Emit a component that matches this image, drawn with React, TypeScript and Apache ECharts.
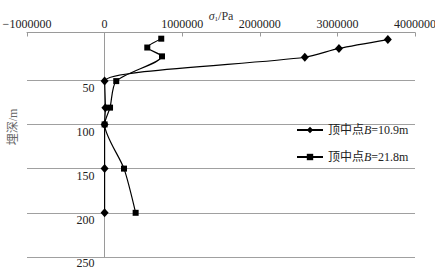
import React, { useEffect, useRef } from 'react';
import * as echarts from 'echarts';

const depthA = [4, 14, 24, 51, 81, 100, 150, 200];
const stressA = [3650000, 3020000, 2580000, 0, 10000, 0, 0, 0];
const depthB = [3, 13, 23, 51, 81, 100, 150, 200];
const stressB = [730000, 550000, 740000, 150000, 70000, 0, 250000, 400000];
const xMin = -1000000;
const xMax = 4000000;
const yMax = 250;
const yTicks = [50, 100, 150, 200, 250];
const seriesNames = ['顶中点B=10.9m', '顶中点B=21.8m'];
const xName = '{i|σ}{sub|1}/Pa';
const yName = '埋深/m';

const FONT = "'Liberation Serif', 'Times New Roman', 'Noto Sans CJK SC', serif";

const GRID_LEFT = 27;
const GRID_RIGHT = 20;
const WIDTH = 435;

export default function App() {
  const ref = useRef<HTMLDivElement>(null);
  useEffect(() => {
    if (!ref.current) return;
    const chart = echarts.init(ref.current, undefined, { renderer: 'svg' });
    const mk = (xs: number[], ys: number[]) => xs.map((x, i) => [x, ys[i]]);
    const plotW = WIDTH - GRID_LEFT - GRID_RIGHT;
    const zeroOffset = ((0 - xMin) / (xMax - xMin)) * plotW;
    const yLabelStyle = { fontSize: 12, fontFamily: FONT, color: '#222', lineHeight: 12 };
    chart.setOption({
      animation: false,
      textStyle: { fontFamily: FONT },
      grid: {
        left: GRID_LEFT,
        right: GRID_RIGHT,
        top: 32.5,
        bottom: 13,
        containLabel: false,
        outerBoundsMode: 'none',
      },
      xAxis: {
        type: 'value',
        position: 'top',
        min: xMin,
        max: xMax,
        interval: 1000000,
        name: xName,
        nameLocation: 'middle',
        nameGap: 10,
        nameMoveOverlap: false,
        nameTextStyle: {
          fontFamily: FONT,
          fontSize: 12,
          color: '#333',
          rich: {
            i: { fontStyle: 'italic', fontSize: 12, fontFamily: FONT, color: '#333' },
            sub: { fontSize: 7, fontFamily: FONT, color: '#333', padding: [6, 0, 0, 0] },
          },
        },
        axisLine: { onZero: false, lineStyle: { color: '#9a9a9a', width: 1 } },
        axisTick: { show: true, inside: true, length: 4, lineStyle: { color: '#9a9a9a' } },
        axisLabel: {
          margin: 3,
          fontSize: 12,
          fontFamily: FONT,
          color: '#222',
          formatter: (v: number) => String(v).replace('-', '\u2212'),
        },
        splitLine: { show: false },
      },
      yAxis: {
        type: 'value',
        inverse: true,
        min: -4,
        max: yMax,
        offset: -zeroOffset,
        axisLine: { show: true, onZero: false, lineStyle: { color: '#9a9a9a', width: 1 } },
        axisTick: { show: true, customValues: yTicks, length: 0, lineStyle: { color: '#9a9a9a' } },
        axisLabel: {
          customValues: yTicks,
          margin: 10,
          fontSize: 12,
          fontFamily: FONT,
          color: '#222',
          verticalAlign: 'top',
          formatter: (v: number) => (v === yMax ? `{b|${v}}` : `{a|${v}}`),
          rich: {
            a: { ...yLabelStyle, padding: [3, 0, 0, 0] },
            b: { ...yLabelStyle, padding: [0, 0, 0, 0] },
          },
        },
        splitLine: { show: true, lineStyle: { color: '#a0a0a0', width: 1 } },
      },
      legend: {
        orient: 'vertical',
        left: 291,
        top: 119,
        itemWidth: 26,
        itemHeight: 8,
        itemGap: 15,
        data: seriesNames,
        formatter: (n: string) => n.replace('B', '{i|B}'),
        textStyle: {
          fontFamily: FONT,
          fontSize: 12,
          color: '#222',
          rich: {
            i: { fontStyle: 'italic', fontFamily: FONT, fontSize: 12, color: '#222' },
          },
        },
      },
      graphic: [
        {
          type: 'text',
          x: 13,
          y: 127,
          rotation: Math.PI / 2,
          style: {
            text: yName,
            fontFamily: FONT,
            fontSize: 12,
            fill: '#666',
            align: 'center',
            verticalAlign: 'middle',
          },
        },
      ],
      series: [
        {
          name: seriesNames[0],
          type: 'line',
          data: mk(stressA, depthA),
          smooth: 0.25,
          symbol: 'diamond',
          symbolSize: [8, 9],
          lineStyle: { color: '#000', width: 1.2 },
          itemStyle: { color: '#000' },
        },
        {
          name: seriesNames[1],
          type: 'line',
          data: mk(stressB, depthB),
          smooth: 0.25,
          symbol: 'rect',
          symbolSize: 6,
          lineStyle: { color: '#000', width: 1.2 },
          itemStyle: { color: '#000' },
        },
      ],
    });
    return () => chart.dispose();
  }, []);
  return <div ref={ref} style={{ width: 435, height: 270, position: 'absolute', left: 0, top: 0 }} />;
}
